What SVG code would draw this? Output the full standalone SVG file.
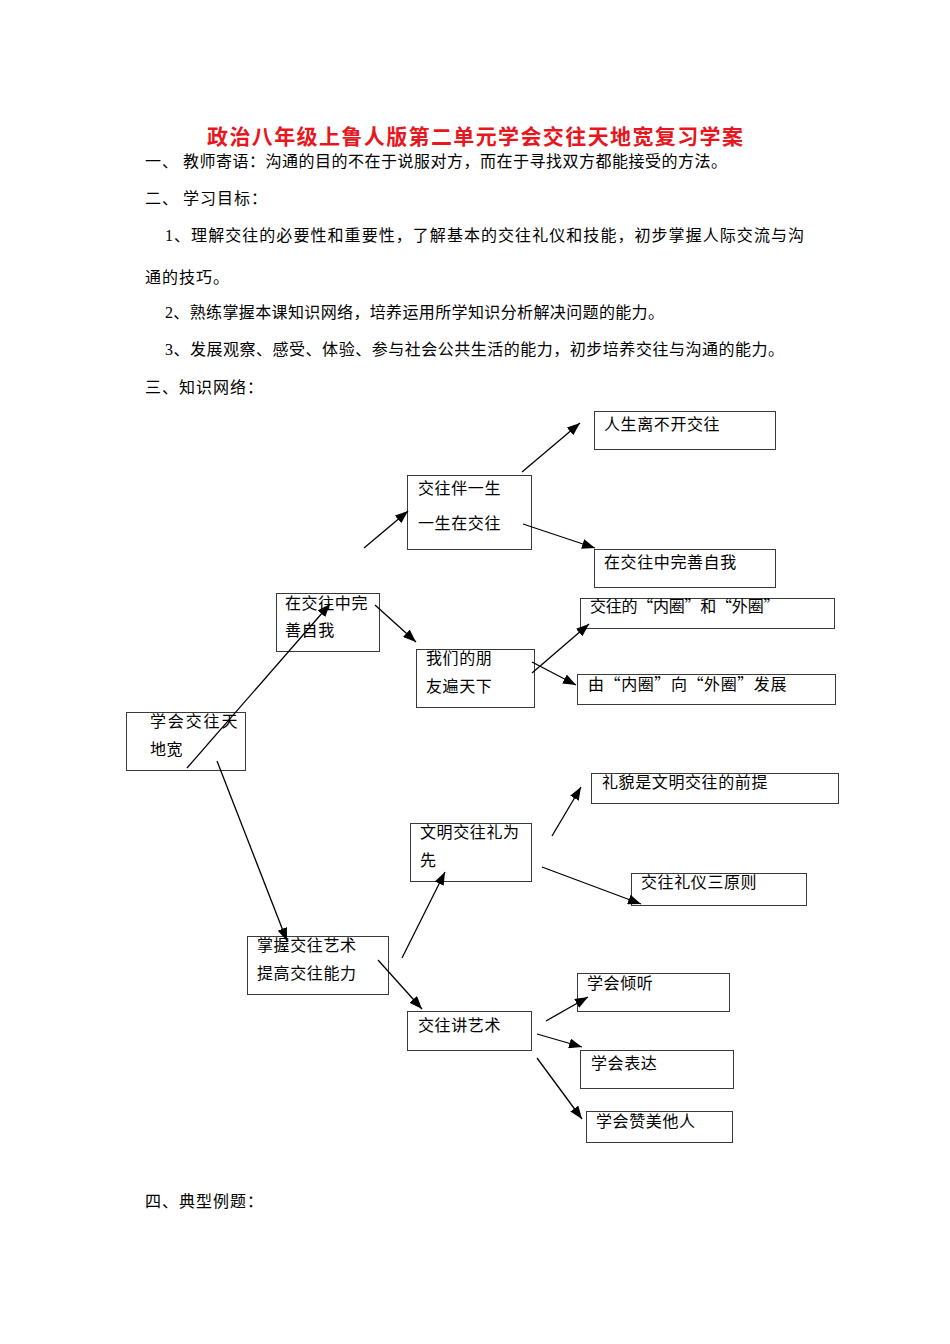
<svg xmlns="http://www.w3.org/2000/svg" width="950" height="1344" viewBox="0 0 950 1344">
<style>
text{font-family:"Liberation Serif","Noto Sans CJK SC",serif;fill:#000}
.body{font-size:16px;letter-spacing:1px}
.title{font-size:21px;font-weight:bold;fill:#e8161d;font-family:"Noto Sans CJK SC",sans-serif}
.bx{fill:#fff;stroke:#3a3a3a;stroke-width:1}
.lbl{font-size:16px;letter-spacing:0.6px;font-family:"Noto Sans CJK SC",sans-serif}
.q{font-feature-settings:"fwid"}
.cn{stroke:#000;stroke-width:1.3;fill:none;marker-end:url(#ah)}
</style>
<defs>
<marker id="ah" markerUnits="userSpaceOnUse" markerWidth="13" markerHeight="10" refX="13" refY="5" orient="auto">
<path d="M0,0 L13,5 L0,10 z" fill="#000"/>
</marker>
</defs>
<rect width="950" height="1344" fill="#fff"/>
<g id="header">
<text class="title" x="207" y="144" textLength="536" lengthAdjust="spacing">政治八年级上鲁人版第二单元学会交往天地宽复习学案</text>
<text class="body" y="167"><tspan x="145">一、</tspan><tspan x="183" textLength="545" lengthAdjust="spacing">教师寄语：沟通的目的不在于说服对方，而在于寻找双方都能接受的方法。</tspan></text>
<text class="body" y="204"><tspan x="145">二、</tspan><tspan x="183">学习目标：</tspan></text>
<text class="body" x="165" y="241" textLength="640" lengthAdjust="spacing">1、理解交往的必要性和重要性，了解基本的交往礼仪和技能，初步掌握人际交流与沟</text>
<text class="body" x="145" y="283">通的技巧。</text>
<text class="body" x="165" y="318" textLength="500" lengthAdjust="spacing">2、熟练掌握本课知识网络，培养运用所学知识分析解决问题的能力。</text>
<text class="body" x="165" y="355" textLength="620" lengthAdjust="spacing">3、发展观察、感受、体验、参与社会公共生活的能力，初步培养交往与沟通的能力。</text>
<text class="body" x="145" y="393">三、知识网络：</text>
<text class="body" x="145" y="1207">四、典型例题：</text>
</g>
<g id="n1"><rect class="bx" x="594.5" y="411.5" width="181" height="38"/><text class="lbl" x="604" y="430">人生离不开交往</text></g>
<g id="n2"><rect class="bx" x="407.5" y="475.5" width="124" height="74"/><text class="lbl" x="418" y="494">交往伴一生</text><text class="lbl" x="418" y="529">一生在交往</text></g>
<g id="n3"><rect class="bx" x="594.5" y="549.5" width="181" height="38"/><text class="lbl" x="604" y="568">在交往中完善自我</text></g>
<g id="n4"><rect class="bx" x="276.5" y="593.5" width="103" height="58"/><text class="lbl" x="285" y="609">在交往中完</text><text class="lbl" x="285" y="636">善自我</text></g>
<g id="n5"><rect class="bx" x="580.5" y="598.5" width="254" height="30"/><text class="lbl q" x="590" y="612" textLength="190" lengthAdjust="spacing">交往的“内圈”和“外圈”</text></g>
<g id="n6"><rect class="bx" x="416.5" y="649.5" width="118" height="58"/><text class="lbl" x="426" y="664">我们的朋</text><text class="lbl" x="426" y="692">友遍天下</text></g>
<g id="n7"><rect class="bx" x="577.5" y="674.5" width="258" height="30"/><text class="lbl q" x="588" y="690" textLength="199" lengthAdjust="spacing">由“内圈”向“外圈”发展</text></g>
<g id="n8"><rect class="bx" x="126.5" y="712.5" width="119" height="58"/><text class="lbl" x="150" y="727" textLength="88" lengthAdjust="spacing">学会交往天</text><text class="lbl" x="150" y="755">地宽</text></g>
<g id="n9"><rect class="bx" x="591.5" y="773.5" width="247" height="30"/><text class="lbl" x="602" y="788">礼貌是文明交往的前提</text></g>
<g id="n10"><rect class="bx" x="410.5" y="823.5" width="121" height="58"/><text class="lbl" x="420" y="838">文明交往礼为</text><text class="lbl" x="420" y="866">先</text></g>
<g id="n11"><rect class="bx" x="631.5" y="873.5" width="175" height="32"/><text class="lbl" x="641" y="888">交往礼仪三原则</text></g>
<g id="n12"><rect class="bx" x="247.5" y="936.5" width="141" height="58"/><text class="lbl" x="257" y="951">掌握交往艺术</text><text class="lbl" x="257" y="979">提高交往能力</text></g>
<g id="n13"><rect class="bx" x="577.5" y="973.5" width="152" height="38"/><text class="lbl" x="587" y="989">学会倾听</text></g>
<g id="n14"><rect class="bx" x="407.5" y="1011.5" width="124" height="39"/><text class="lbl" x="418" y="1031">交往讲艺术</text></g>
<g id="n15"><rect class="bx" x="580.5" y="1050.5" width="153" height="38"/><text class="lbl" x="591" y="1069">学会表达</text></g>
<g id="n16"><rect class="bx" x="586.5" y="1111.5" width="146" height="31"/><text class="lbl" x="596" y="1127">学会赞美他人</text></g>
<g id="connectors">
<line class="cn" x1="364" y1="548" x2="408" y2="511"/>
<line class="cn" x1="522" y1="472" x2="580" y2="423"/>
<line class="cn" x1="523" y1="524" x2="595" y2="548"/>
<line class="cn" x1="187" y1="768" x2="330" y2="604"/>
<line class="cn" x1="375" y1="605" x2="416" y2="642"/>
<line class="cn" x1="532" y1="673" x2="589" y2="624"/>
<line class="cn" x1="532" y1="662" x2="576" y2="685"/>
<line class="cn" x1="217" y1="761" x2="287" y2="941"/>
<line class="cn" x1="402" y1="958" x2="445" y2="872"/>
<line class="cn" x1="552" y1="836" x2="581" y2="787"/>
<line class="cn" x1="542" y1="867" x2="641" y2="904"/>
<line class="cn" x1="378" y1="960" x2="422" y2="1009"/>
<line class="cn" x1="546" y1="1021" x2="588" y2="997"/>
<line class="cn" x1="537" y1="1034" x2="582" y2="1047"/>
<line class="cn" x1="537" y1="1058" x2="582" y2="1119"/>
</g>
</svg>
